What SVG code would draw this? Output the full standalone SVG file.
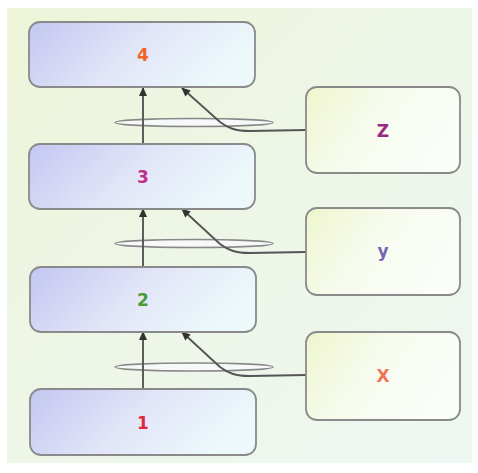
<svg xmlns="http://www.w3.org/2000/svg" width="478" height="473" viewBox="0 0 478 473">
<defs>
<linearGradient id="bg" x1="0" y1="0" x2="1" y2="1">
<stop offset="0" stop-color="#edf4d8"/>
<stop offset="0.5" stop-color="#eef6e8"/>
<stop offset="1" stop-color="#eef7f2"/>
</linearGradient>
<linearGradient id="lay" x1="0" y1="0" x2="1" y2="0.3">
<stop offset="0" stop-color="#c3c6f0"/>
<stop offset="0.55" stop-color="#e2e6f8"/>
<stop offset="1" stop-color="#ecf8fa"/>
</linearGradient>
<linearGradient id="side" x1="0" y1="0" x2="1" y2="0.4">
<stop offset="0" stop-color="#eef6cc"/>
<stop offset="0.5" stop-color="#f7fbee"/>
<stop offset="1" stop-color="#fafdf8"/>
</linearGradient>
<marker id="ah" viewBox="0 0 10 10" refX="9" refY="5" markerWidth="11" markerHeight="9" orient="auto-start-reverse" markerUnits="userSpaceOnUse">
<path d="M0,0.5 L10,5 L0,9.5 Z" fill="#333"/>
</marker>
<style>
.lay{fill:url(#lay);stroke:#8a8a8a;stroke-width:1.8}
.side{fill:url(#side);stroke:#8a8a8a;stroke-width:1.8}
.lbl{font-family:"DejaVu Sans","Liberation Sans",sans-serif;font-size:17px;font-weight:bold;text-anchor:middle;dominant-baseline:central}
.ln{fill:none;stroke:#555;stroke-width:1.9}
.ring{fill:#f6f9f8;stroke:#888;stroke-width:1.5}
</style>
</defs>
<rect x="7" y="8" width="465" height="455" fill="url(#bg)"/>
<g id="connectors">
<g id="c-z">
<ellipse class="ring" cx="194" cy="122.5" rx="79" ry="4"/>
<line class="ln" x1="143" y1="144" x2="143" y2="88" marker-end="url(#ah)"/>
<path class="ln" d="M306,130 L250,131 C235,131 228,128 220,122 L182,88" marker-end="url(#ah)"/>
</g>
<g id="c-y">
<ellipse class="ring" cx="194" cy="243.5" rx="79" ry="4"/>
<line class="ln" x1="143" y1="267" x2="143" y2="209" marker-end="url(#ah)"/>
<path class="ln" d="M306,252 L250,253 C235,253 228,250 220,244 L182,209" marker-end="url(#ah)"/>
</g>
<g id="c-x">
<ellipse class="ring" cx="194" cy="367" rx="79" ry="4"/>
<line class="ln" x1="143" y1="389" x2="143" y2="332" marker-end="url(#ah)"/>
<path class="ln" d="M306,375 L250,376 C235,376 228,373 220,367 L182,332" marker-end="url(#ah)"/>
</g>
</g>
<g id="n4"><rect class="lay" x="29" y="22" width="226" height="65" rx="11"/><text class="lbl" x="143" y="55" fill="#f06428">4</text></g>
<g id="n3"><rect class="lay" x="29" y="144" width="226" height="65" rx="11"/><text class="lbl" x="143" y="177" fill="#c0308c">3</text></g>
<g id="n2"><rect class="lay" x="30" y="267" width="226" height="65" rx="11"/><text class="lbl" x="143" y="300" fill="#4a9a3a">2</text></g>
<g id="n1"><rect class="lay" x="30" y="389" width="226" height="66" rx="11"/><text class="lbl" x="143" y="423" fill="#e0283c">1</text></g>
<g id="nz"><rect class="side" x="306" y="87" width="154" height="86" rx="11"/><text class="lbl" x="383" y="131" fill="#9a2a82">Z</text></g>
<g id="ny"><rect class="side" x="306" y="208" width="154" height="87" rx="11"/><text class="lbl" x="383" y="251" fill="#7868b4">y</text></g>
<g id="nx"><rect class="side" x="306" y="332" width="154" height="88" rx="11"/><text class="lbl" x="383" y="376" fill="#f07458">X</text></g>
</svg>
